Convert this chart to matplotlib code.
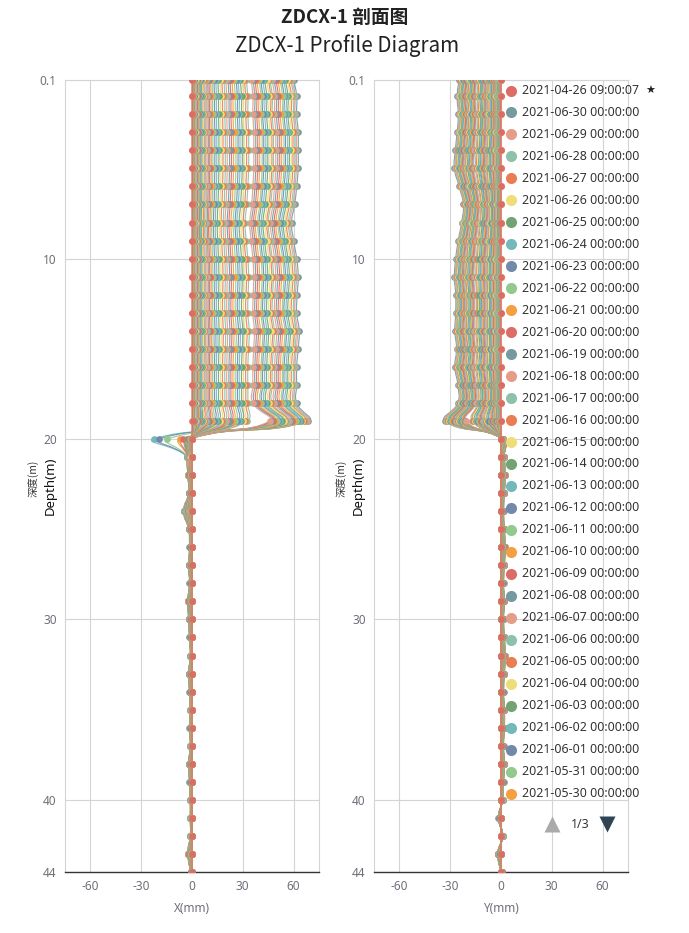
"""ZDCX-1 inclinometer profile: cumulative displacement X / Y versus depth."""

import matplotlib
matplotlib.use("Agg")
import matplotlib.pyplot as plt
import numpy as np
import pandas as pd
from matplotlib.path import Path
from matplotlib.patches import PathPatch

W, H = 689, 933

# --- data ---
DEPTHS = [0.1, 1, 2, 3, 4, 5, 6, 7, 8, 9, 10, 11, 12, 13, 14, 15, 16, 17, 18, 19, 20,
          21, 22, 23, 24, 25, 26, 27, 28, 29, 30, 31, 32, 33, 34, 35, 36, 37, 38, 39,
          40, 41, 42, 43, 44]

INITIAL_LABEL = "2021-04-26 09:00:07"
DATE_LABELS = [d.strftime("%Y-%m-%d %H:%M:%S")
               for d in pd.date_range("2021-04-26", "2021-06-30", freq="D")[::-1]]

# displacement of each daily profile in the upper zone (06-30 first ... 04-26 last)
X_TOP = [60.0, 59.0, 58.2, 57.0, 56.1, 55.0, 54.0, 52.8, 51.9, 50.6,
         49.5, 48.4, 47.3, 46.0, 45.1, 44.0, 42.8, 41.7, 40.5, 39.6,
         38.2, 37.1, 36.0, 34.9, 32.0, 30.8, 29.5, 28.4, 27.1, 26.0,
         24.8, 23.5, 22.3, 21.2, 19.9, 18.8, 17.5, 16.4, 15.2, 14.0,
         12.9, 11.8, 10.9, 10.0, 9.2, 8.4, 7.6, 6.9, 6.2, 5.6,
         5.0, 4.5, 4.0, 3.6, 3.2, 2.8, 2.5, 2.2, 1.9, 1.6,
         1.3, 1.1, 0.9, 0.6, 0.4, 0.2]
Y_TOP = [-25.0, -24.5, -24.1, -23.6, -23.2, -22.8, -22.4, -21.9, -21.5, -21.0,
         -20.6, -20.1, -19.6, -19.1, -18.7, -18.2, -17.8, -17.3, -16.8, -16.4,
         -15.9, -15.4, -14.9, -14.5, -13.6, -13.0, -12.4, -11.9, -11.3, -10.8,
         -10.3, -9.8, -9.3, -8.8, -8.3, -7.8, -7.3, -6.8, -6.3, -5.8,
         -5.4, -4.9, -4.5, -4.1, -3.8, -3.5, -3.2, -2.9, -2.6, -2.3,
         -2.1, -1.9, -1.7, -1.5, -1.3, -1.1, -1.0, -0.9, -0.8, -0.7,
         -0.6, -0.5, -0.4, -0.3, -0.2, -0.1]

# relative bending of the upper zone, depths 0.1 .. 18
X_BEND = [1.00, 1.03, 1.03, 1.045, 1.045, 1.045, 1.03, 1.01, 0.98, 1.00,
          1.03, 1.045, 1.035, 1.03, 1.055, 1.045, 1.03, 1.03, 1.03]
Y_BEND = [0.99, 1.035, 1.01, 1.035, 1.08, 1.10, 0.99, 0.89, 0.93, 1.01,
          1.07, 1.10, 1.07, 1.07, 1.09, 1.05, 1.09, 1.02, 1.02]

# values at the sliding zone (19 m and 20 m)
X_AT_19 = [68.7, 67.8, 67.0, 66.0, 65.1, 64.2, 63.3, 62.0, 61.2, 60.0,
           59.1, 58.2, 57.2, 56.0, 55.2, 54.3, 53.1, 52.1, 50.9, 50.0,
           48.6, 47.6, 46.8, 45.8, 32.5, 31.2, 30.0, 28.8, 27.6, 26.5,
           25.2, 23.9, 22.7, 21.6, 20.3, 19.1, 17.8, 16.7, 15.5, 14.3,
           13.1, 12.0, 11.0, 10.1, 9.3, 8.5, 7.7, 7.0, 6.3, 5.7,
           5.1, 4.6, 4.1, 3.7, 3.3, 2.9, 2.6, 2.3, 2.0, 1.7,
           1.4, 1.2, 1.0, 0.7, 0.5, 0.3]
X_AT_20 = [-2.0, -1.8, -2.2, -1.6, -3.0, -2.4, -22.5, -19.5, -14.5, -7.0,
           -5.5, -2.0, -1.8, -2.5, -1.5, -1.2, -2.2, -1.0, -1.6, -1.4,
           -1.2, -1.0, -1.3, -0.9, -0.8, -0.9, -0.7, -0.8, -0.6, -0.7,
           -0.5, -0.6, -0.5, -0.4, -0.5, -0.4, -0.3, -0.4, -0.3, -0.3,
           -0.2, -0.3, -0.2, -0.2, -0.2, -0.1, -0.2, -0.1, -0.1, -0.1,
           0.0, -0.1, 0.0, 0.0, 0.0, 0.0, 0.0, 0.0, 0.0, 0.0,
           0.0, 0.0, 0.0, 0.0, 0.0, 0.0]
Y_AT_19 = [-33.0, -32.4, -31.9, -31.3, -30.8, -30.3, -29.8, -29.2, -28.7, -28.1,
           -27.6, -27.0, -26.4, -25.9, -25.4, -24.8, -24.3, -23.7, -23.1, -22.6,
           -22.1, -21.5, -21.0, -20.5, -17.0, -16.3, -15.5, -14.9, -14.1, -13.5,
           -12.9, -12.2, -11.6, -11.0, -10.4, -9.8, -9.1, -8.5, -7.9, -7.3,
           -6.8, -6.1, -5.6, -5.1, -4.6, -4.1, -3.7, -3.3, -3.0, -2.7,
           -2.4, -2.1, -1.9, -1.6, -1.4, -1.2, -1.1, -1.0, -0.9, -0.8,
           -0.6, -0.5, -0.4, -0.3, -0.2, -0.1]
Y_AT_20 = [1.2, 0.8, 1.0, 1.4, 0.9, 1.1, 0.7, 1.3, 1.0, 0.8,
           1.2, 0.9, 1.1, 0.7, 1.0, 0.8, 1.2, 0.6, 0.9, 1.0,
           0.7, 0.8, 0.6, 0.9, 0.7, 0.5, 0.8, 0.6, 0.5, 0.7,
           0.4, 0.6, 0.5, 0.4, 0.5, 0.3, 0.4, 0.3, 0.4, 0.3,
           0.2, 0.3, 0.2, 0.2, 0.2, 0.1, 0.2, 0.1, 0.1, 0.1,
           0.1, 0.0, 0.1, 0.0, 0.0, 0.0, 0.0, 0.0, 0.0, 0.0,
           0.0, 0.0, 0.0, 0.0, 0.0, 0.0]

# stable zone below 20 m (envelope of the latest profile), depths 21 .. 44
X_DEEP = [-3.0, -2.5, -2.0, -5.0, -2.0, -1.5, -2.0, -1.5, -2.5, -2.0, -1.5, -1.0,
          -2.0, -1.5, -1.0, -1.5, -1.0, -2.0, -1.5, -1.0, -1.0, -1.0, -2.5, -0.5]
Y_DEEP = [2.0, 2.5, 2.0, 1.5, 2.0, 2.5, 2.0, 1.5, 2.0, 1.5, 2.0, 2.5,
          2.0, 1.5, 2.0, 2.0, 1.5, 2.0, 1.5, 1.0, -1.5, 1.0, -2.0, 0.5]

PALETTE = ["#dd6b66", "#759aa0", "#e69d87", "#8dc1a9", "#ea7e53", "#eedd78",
           "#73a373", "#73b9bc", "#7289ab", "#91ca8c", "#f49f42"]

X_TICKS = [-60, -30, 0, 30, 60]
Y_TICKS = [0.1, 10, 20, 30, 40, 44]
Y_TICK_LABELS = ["0.1", "10", "20", "30", "40", "44"]

LATIN = ["Noto Sans", "DejaVu Sans"]
CJK = ["Noto Sans CJK SC", "DejaVu Sans"]
AXIS_GREY = "#6E7079"


def profile(top, bend, at19, at20, deep, s):
    frac = top[s] / top[0]
    return ([top[s] * b for b in bend] + [at19[s], at20[s]]
            + [v * frac for v in deep])


def smooth_path(xv, dv, sx, sy, smooth=0.5):
    """Bezier path through the points, same construction as echarts smooth lines."""
    pts = np.column_stack([np.asarray(xv, float), np.asarray(dv, float)])
    scale = np.array([sx, sy])
    cin, cout = pts.copy(), pts.copy()
    for i in range(1, len(pts) - 1):
        v = pts[i + 1] - pts[i - 1]
        d0 = np.hypot(*((pts[i] - pts[i - 1]) * scale))
        d1 = np.hypot(*((pts[i + 1] - pts[i]) * scale))
        if d0 + d1 == 0:
            continue
        cin[i] = pts[i] - v * smooth * d0 / (d0 + d1)
        cout[i] = pts[i] + v * smooth * d1 / (d0 + d1)
    verts, codes = [pts[0]], [Path.MOVETO]
    for i in range(len(pts) - 1):
        verts += [cout[i], cin[i + 1], pts[i + 1]]
        codes += [Path.CURVE4] * 3
    return Path(verts, codes)


def style_axis(ax):
    ax.set_xlim(-75, 75)
    ax.set_ylim(44, 0.1)
    ax.set_xticks(X_TICKS)
    ax.set_xticklabels([str(t) for t in X_TICKS], family=LATIN)
    ax.set_yticks(Y_TICKS)
    ax.set_yticklabels(Y_TICK_LABELS, family=LATIN)
    ax.tick_params(length=0, labelsize=8.5, colors=AXIS_GREY, pad=6)
    ax.grid(True, color="#d4d4d4", lw=0.8)
    ax.set_axisbelow(True)
    for side in ("top", "left", "right"):
        ax.spines[side].set_color("#d4d4d4")
        ax.spines[side].set_linewidth(0.8)
    ax.spines["bottom"].set_color("#333333")
    ax.spines["bottom"].set_linewidth(1.0)


def draw_profiles(ax, series, sx, sy):
    for k, vals in enumerate(series):
        color = PALETTE[k % len(PALETTE)]
        path = smooth_path(vals, DEPTHS, sx, sy)
        ax.add_patch(PathPatch(path, fill=False, edgecolor=color, lw=0.85,
                               alpha=0.9, zorder=2 + k * 0.001))
    for k, vals in enumerate(series):
        color = PALETTE[k % len(PALETTE)]
        ax.plot(vals, DEPTHS, "o", ms=4.8, color=color, mec="none",
                zorder=3 + k * 0.001)


def main():
    fig = plt.figure(figsize=(W / 100, H / 100), dpi=100)
    ax_x = fig.add_axes([65 / W, 1 - 872 / H, 254 / W, 792 / H])
    ax_y = fig.add_axes([374 / W, 1 - 872 / H, 254 / W, 792 / H])
    for ax in (ax_x, ax_y):
        style_axis(ax)

    n = len(X_TOP)
    zeros = [0.0] * len(DEPTHS)
    x_series = [zeros] + [profile(X_TOP, X_BEND, X_AT_19, X_AT_20, X_DEEP, s)
                          for s in range(n)]
    y_series = [zeros] + [profile(Y_TOP, Y_BEND, Y_AT_19, Y_AT_20, Y_DEEP, s)
                          for s in range(n)]

    sx = 254 / 150   # px per mm
    sy = 792 / 43.9  # px per m
    draw_profiles(ax_x, x_series, sx, sy)
    draw_profiles(ax_y, y_series, sx, sy)

    # overlay in pixel coordinates for titles, axis names and legend
    ov = fig.add_axes([0, 0, 1, 1], zorder=10)
    ov.set_xlim(0, W)
    ov.set_ylim(H, 0)
    ov.axis("off")
    ov.patch.set_alpha(0)

    ov.text(345, 17, "ZDCX-1 剖面图", ha="center", va="center", fontsize=13.5,
            fontweight="bold", family=CJK, color="#222222")
    ov.text(347, 46, "ZDCX-1 Profile Diagram", ha="center", va="center",
            fontsize=14.8, family=CJK, color="#222222")

    for cx, name in ((192, "X(mm)"), (501, "Y(mm)")):
        ov.text(cx, 908, name, ha="center", va="center", fontsize=8.5,
                family=LATIN, color=AXIS_GREY)
    for cx in (0, 308):
        ov.text(cx + 33, 478, "深度(m)", ha="center", va="center", rotation=90,
                fontsize=7.5, family=CJK, color="#333333")
        ov.text(cx + 50, 486, "Depth(m)", ha="center", va="center", rotation=90,
                fontsize=9.5, family=LATIN, color="#111111")

    # legend, first page (33 entries)
    labels = [INITIAL_LABEL] + DATE_LABELS
    for k in range(33):
        yy = 90.5 + k * 21.97
        ov.plot(511, yy, "o", ms=8, color=PALETTE[k % len(PALETTE)], mec="none")
        ov.text(522, yy, labels[k], ha="left", va="center", fontsize=8.9,
                family=LATIN, color="#333333")
    ov.text(645, 90.5, "★", ha="left", va="center", fontsize=8,
            family=["DejaVu Sans"], color="#222222")

    ov.plot(552, 824, "^", ms=11, color="#aaaaaa", mec="none")
    ov.text(580, 824, "1/3", ha="center", va="center", fontsize=8.9,
            family=LATIN, color="#333333")
    ov.plot(607, 824, "v", ms=11, color="#2f4554", mec="none")

    fig.savefig("out.png", dpi=100)
    plt.close(fig)


if __name__ == "__main__":
    main()
